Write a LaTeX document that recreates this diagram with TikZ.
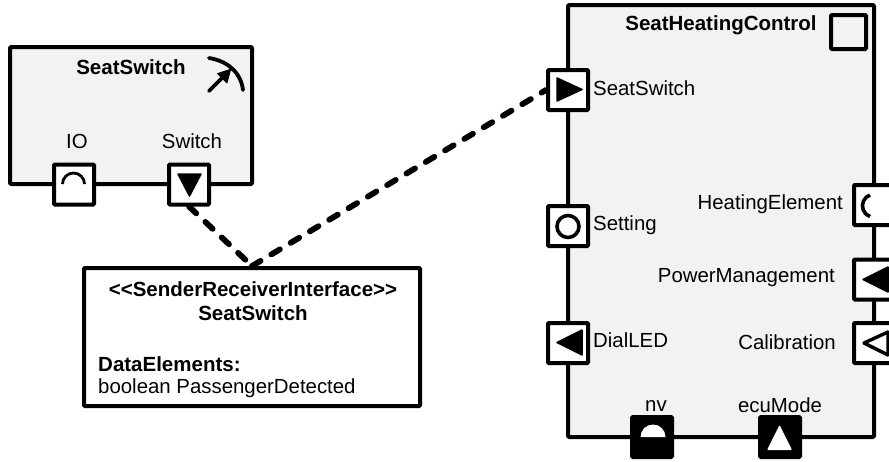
\documentclass[tikz,border=0pt]{standalone}
\usepackage{fontspec}
\setmainfont{Liberation Sans}
\definecolor{boxgray}{HTML}{F2F2F2}
\tikzset{
  x=1pt,y=-1pt,
  comp/.style={draw=black,line width=4pt,fill=boxgray,rounded corners=1pt,line join=round},
  portbox/.style={draw=black,line width=4pt,fill=white,rounded corners=1pt,minimum width=40pt,minimum height=40pt,inner sep=0pt,outer sep=2pt},
  darkport/.style={portbox,fill=black},
  lab/.style={font=\fontsize{20.4}{24}\selectfont,inner sep=0pt},
  blab/.style={lab,font=\fontsize{20.5}{24}\selectfont\bfseries},
  tri/.style={fill=black,draw=black,line width=1.5pt,line join=round},
  wire/.style={line width=5.8pt,dash pattern=on 10pt off 12.5pt,line cap=round},
}
\begin{document}
\begin{tikzpicture}
\useasboundingbox (0,0) rectangle (889,461);
\clip (0,0) rectangle (889,461);
% components
\draw[comp] (10,47) rectangle (252,184);
\draw[comp] (568,5) rectangle (874,437);
\node[blab] (t1) at (131,67) {SeatSwitch};
\node[blab] (t2) at (721,25) {SeatHeatingControl};
% icons
\draw[line width=3.8pt,line cap=round] (209,58) .. controls (228,61) and (241,73) .. (243,90);
\draw[line width=3.8pt,line cap=round] (209,91) -- (224,76);
\fill[black,draw=black,line width=.8pt,line join=round] (230.7,69.3) -- (217.5,73.5) -- (227,83) -- cycle;
\draw[line width=4pt,rounded corners=1pt] (831,15) rectangle (866,49);
% ports
\node[portbox] (io) at (74,184.5) {};
\node[portbox] (sw) at (189,184.5) {};
\node[portbox] (pss) at (568,90) {};
\node[portbox] (pset) at (568,226) {};
\node[portbox] (pled) at (568,343) {};
\node[portbox] (phe) at (874,205) {};
\node[portbox] (ppm) at (874,279.5) {};
\node[portbox] (pcal) at (874,343) {};
\node[darkport] (pnv) at (652,437) {};
\node[darkport] (pecu) at (780,437) {};
% port glyphs
\draw[line width=2.8pt] (62.5,184) arc (-180:0:11);
\draw[tri] (178,174) -- (201,174) -- (189.5,196) -- cycle;
\draw[tri] (557,78) -- (582,89.5) -- (557,101) -- cycle;
\draw[line width=3.6pt] (568,226.5) circle (11);
\draw[tri] (582,330) -- (582,355) -- (557,342.5) -- cycle;
\draw[line width=3.6pt] (870,195) arc (-110:-250:11.5);
\draw[tri] (888,267) -- (888,292) -- (863,279.5) -- cycle;
\draw[line width=3.4pt,line join=round] (888,332) -- (864,343) -- (888,355) -- cycle;
\fill[white] (640.5,437) arc (-180:0:12.5) -- cycle;
\fill[white,rounded corners=1pt] (767,450) -- (779.5,425) -- (792,450) -- cycle;
% labels
\node[lab] (l1) at (77,141) {IO};
\node[lab] (l2) at (192,141) {Switch};
\node[lab,anchor=west] (l3) at (593,88) {SeatSwitch};
\node[lab,anchor=west] (l4) at (593,225) {Setting};
\node[lab,anchor=west] (l5) at (593,340) {DialLED};
\node[lab,anchor=east] (l6) at (843,204) {HeatingElement};
\node[lab,anchor=east] (l7) at (835,278) {PowerManagement};
\node[lab,anchor=east] (l8) at (836,342) {Calibration};
\node[lab] (l9) at (656,406) {nv};
\node[lab] (l10) at (780,405) {ecuMode};
% interface
\node[draw=black,line width=4pt,fill=white,rounded corners=1pt,minimum width=336pt,minimum height=138pt,inner sep=0pt,outer sep=2pt] (iface) at (252,337) {};
\node[blab] (i1) at (253,289) {<{}<SenderReceiverInterface>{}>};
\node[blab] (i2) at (253,313) {SeatSwitch};
\node[blab,anchor=west] (i3) at (98,364) {DataElements:};
\node[lab,anchor=west] (i4) at (98,388) {boolean PassengerDetected};
% connectors
\coordinate (j) at (iface.north);
\draw[wire] (sw.south) -- (j);
\draw[wire] (j) -- (pss.west);
\end{tikzpicture}
\end{document}
